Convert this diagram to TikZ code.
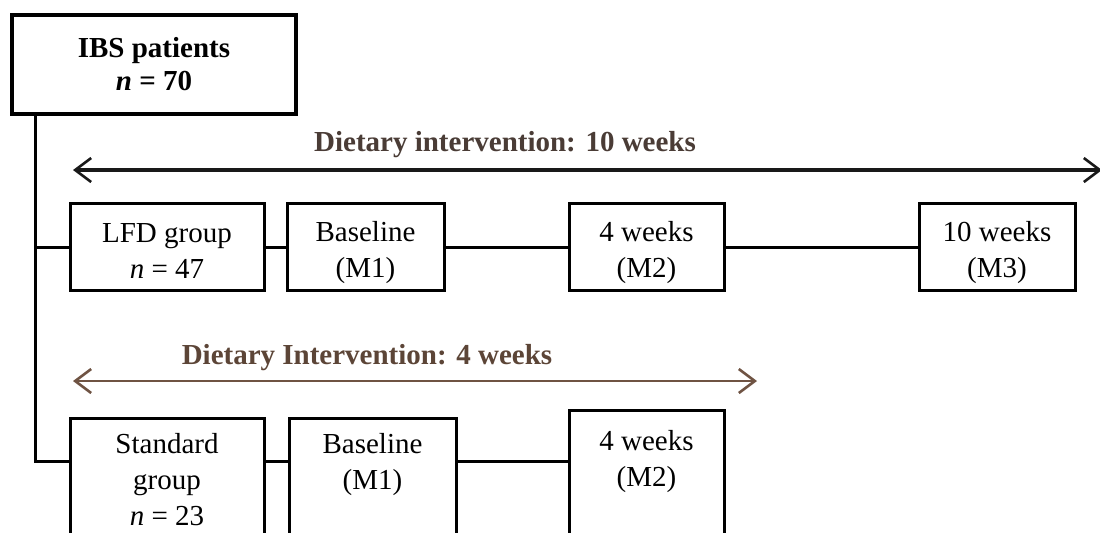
\documentclass[tikz,border=0pt]{standalone}
\usepackage{fontspec}
\setmainfont{Liberation Serif}
\usetikzlibrary{arrows.meta}
\definecolor{labtop}{HTML}{4A3C36}
\definecolor{labbot}{HTML}{5C4537}
\definecolor{arrbot}{HTML}{6F5343}
\tikzset{
  box/.style={draw, line width=1.5pt, rectangle, align=center, inner sep=0pt,
    font=\fontsize{14.5}{18}\selectfont},
  conn/.style={line width=1.5pt},
  span/.style={line width=1.3pt, {Straight Barb[length=8pt,width=12pt,line width=1.3pt]}-{Straight Barb[length=8pt,width=12pt,line width=1.3pt]}},
  spanlabel/.style={font=\fontsize{14.5}{18}\selectfont\bfseries, inner sep=0pt}
}
\begin{document}
\begin{tikzpicture}[x=0.5pt,y=-0.5pt]
\useasboundingbox (0,0) rectangle (1100,532);
\clip (0,0) rectangle (1100,532);
\fill[white] (0,0) rectangle (1100,532);
% title box
\node[box, line width=2pt, minimum width=142pt, minimum height=49.5pt, font=\fontsize{14.5}{16.5}\selectfont\bfseries] (ibs) at (154,64) {IBS patients\\\textbf{\textit{n}} = 70};
% row 1
\node[box, minimum width=97pt, minimum height=43.5pt] (lfd) at (167,247) {\rule{0pt}{13pt}LFD group\\\textit{n} = 47};
\node[box, minimum width=78.5pt, minimum height=43.5pt] (bl1) at (365.5,247) {\rule{0pt}{15.5pt}Baseline\\(M1)};
\node[box, minimum width=77.5pt, minimum height=43.5pt] (wa) at (646.5,247) {\rule{0pt}{15.5pt}4 weeks\\(M2)};
\node[box, minimum width=78pt, minimum height=43.5pt] (wb) at (997,247) {\rule{0pt}{15.5pt}10 weeks\\(M3)};
% row 2
\node[box, minimum width=97pt, minimum height=62pt] (std) at (167,480) {Standard\\group\\\textit{n} = 23};
\node[box, minimum width=83.5pt, minimum height=62pt] (bl2) at (372.5,480) {\rule{0pt}{14.5pt}Baseline\\(M1)\\\strut};
\node[box, minimum width=77.5pt, minimum height=67pt] (wc) at (646.5,477) {\rule{0pt}{14.5pt}4 weeks\\(M2)\\\strut};
% coordinates
\coordinate (t0) at (35,0);
\coordinate (r2) at (0,461);
\coordinate (aL) at (73,170);
\coordinate (aR) at (1102,170);
\coordinate (bL) at (73,381);
\coordinate (bR) at (757,381);
% trunk and connectors
\draw[conn] (ibs.south -| t0) |- (std.west |- r2);
\draw[conn] (lfd.west) -- (lfd.west -| t0);
\draw[conn] (lfd.east) -- (bl1.west);
\draw[conn] (bl1.east) -- (wa.west);
\draw[conn] (wa.east) -- (wb.west);
\draw[conn] (std.east |- r2) -- (bl2.west |- r2);
\draw[conn] (bl2.east |- r2) -- (wc.west |- r2);
% spans
\draw[span, line width=1.6pt, color=black!90] (aL) -- (aR);
\node[spanlabel, text=labtop] (lt) at (505,145) {Dietary intervention: 10 weeks};
\draw[span, color=arrbot] (bL) -- (bR);
\node[spanlabel, text=labbot] (lb) at (367,358) {Dietary Intervention: 4 weeks};
\end{tikzpicture}
\end{document}
